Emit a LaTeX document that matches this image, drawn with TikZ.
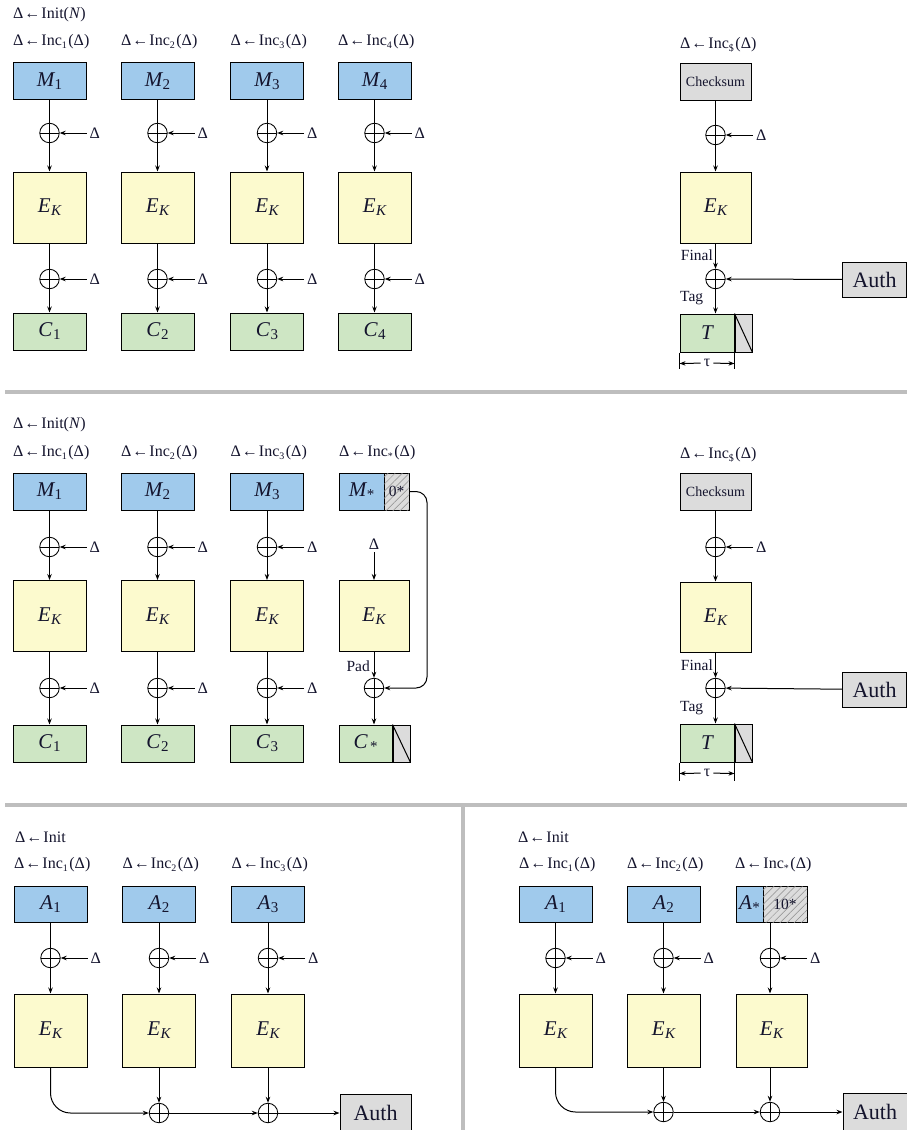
\documentclass[tikz,border=0pt]{standalone}
\usepackage{fontspec}
\setmainfont{Liberation Serif}
\usetikzlibrary{arrows.meta,patterns.meta}

\definecolor{mblue}{RGB}{160,202,236}
\definecolor{eyel}{RGB}{252,250,206}
\definecolor{cgreen}{RGB}{206,230,196}
\definecolor{lgray}{RGB}{220,220,220}
\definecolor{sepgray}{RGB}{190,190,190}
\definecolor{txt}{RGB}{20,20,45}

% font sizes
\newcommand\lbl{\fontsize{16}{18}\selectfont}
\newcommand\sml{\fontsize{15.5}{17}\selectfont}
\newcommand\cks{\fontsize{14}{15}\selectfont}
% big block label with subscript
\newcommand\bigv[2]{{\fontsize{21}{24}\selectfont\itshape #1}\kern0.5pt\raisebox{-3pt}{\fontsize{15}{15}\selectfont #2}}
\newcommand\ek{\bigv{E}{\itshape K}}
\newcommand\authtxt{{\fontsize{22}{24}\selectfont Auth}}
% offset update labels
\newcommand\lo[1]{\raisebox{-2.5pt}{\fontsize{10}{10}\selectfont #1}}
\newcommand\incl[1]{Δ\kern1pt←\kern1pt Inc\lo{#1}\kern1.5pt(Δ)}

\begin{document}
\begin{tikzpicture}[x=1pt,y=-1pt,
  box/.style={draw=black, line width=1pt, inner sep=0pt, text=txt},
  mb/.style={box, fill=mblue, minimum width=73pt, minimum height=37pt},
  eb/.style={box, fill=eyel, minimum width=73pt, minimum height=71pt},
  cb/.style={box, fill=cgreen, minimum width=73pt, minimum height=37pt},
  gb/.style={box, fill=lgray},
  hb/.style={box, fill=lgray, postaction={pattern={Lines[angle=45,distance=5pt,line width=0.5pt]}, pattern color=black!45}},
  xr/.style={circle, draw=black, line width=0.85pt, minimum size=19.5pt, inner sep=0pt,
    path picture={\draw[line width=0.85pt, black] (path picture bounding box.north) -- (path picture bounding box.south)
      (path picture bounding box.west) -- (path picture bounding box.east);}},
  ln/.style={line width=1pt, black},
  ar/.style={ln, -{Stealth[length=6pt,width=4.5pt]}},
  lab/.style={text=txt, inner sep=0pt, font=\lbl},
  sep/.style={line width=4pt, sepgray}]
\useasboundingbox (0,0) rectangle (907,1130);

% ---------------- separators ----------------
\draw[sep] (5,392) -- (907,392);
\draw[sep] (5,805) -- (907,805);
\draw[sep] (463,805) -- (463,1130);

% ---------------- encryption, full blocks ----------------
\node[lab,anchor=west] (tinit) at (13,15) {Δ\kern1pt←\kern1pt Init(\textit{N})};
\foreach \c/\i in {49.5/1,157.5/2,267/3,374.5/4}{
  \node[lab,anchor=west] (tinc\i) at ({\c-36.5},42) {\incl{\i}};
  \node[mb] (tm\i) at (\c,81) {\bigv{M}{\i}};
  \node[xr] (txa\i) at (\c,133) {};
  \node[lab,anchor=west] (tda\i) at ({\c+40},133) {Δ};
  \node[eb] (te\i) at (\c,207.5) {\ek};
  \node[xr] (txb\i) at (\c,279) {};
  \node[lab,anchor=west] (tdb\i) at ({\c+40},279) {Δ};
  \node[cb] (tc\i) at (\c,331.5) {\bigv{C}{\i}};
  \draw[ln] (tm\i) -- (txa\i);
  \draw[ar] (txa\i) -- (te\i);
  \draw[ar,shorten <=3pt] (tda\i) -- (txa\i);
  \draw[ln] (te\i) -- (txb\i);
  \draw[ar] (txb\i) -- (tc\i);
  \draw[ar,shorten <=3pt] (tdb\i) -- (txb\i);
}
% checksum and tag
\node[lab,anchor=west] (tinc5) at (680,45) {\incl{\$}};
\node[gb, minimum width=71pt, minimum height=37pt, font=\cks] (tck) at (715.5,81.5) {Checksum};
\node[xr] (tcx) at (715.5,135) {};
\node[lab,anchor=west] (tcd) at (756,135) {Δ};
\node[eb, minimum width=71pt] (tce) at (715.5,207.5) {\ek};
\node[xr] (tfx) at (715.5,279) {};
\node[lab,anchor=east,font=\sml] (tfin) at (713,255) {Final};
\node[gb, minimum width=64pt, minimum height=35pt] (tauth) at (874.5,279.5) {\authtxt};
\node[lab,anchor=west,font=\sml] (ttag) at (680,298) {Tag};
\node[cb, minimum width=54pt, minimum height=38pt] (tt) at (707,333) {{\fontsize{21}{24}\selectfont\itshape T}};
\node[gb, anchor=north west, minimum width=17pt, minimum height=38pt] (tts) at (tt.north east) {};
\draw[ln] (tts.north west) -- (tts.south east);
\draw[ln] (tck) -- (tcx);
\draw[ar] (tcx) -- (tce);
\draw[ar,shorten <=3pt] (tcd) -- (tcx);
\draw[ar] (tce) -- (tfx);
\draw[ar] (tauth) -- (tfx);
\draw[ar] (tfx.south) -- (tfx.south |- tt.north);
\draw[ln] (tt.south west) -- ++(0,16);
\draw[ln] (tt.south east) -- ++(0,16);
\node[lab] (ttau) at (707,363) {τ};
\path (tt.south west) ++(0,11) coordinate (ttl);
\path (tt.south east) ++(0,11) coordinate (ttr);
\draw[ar,shorten <=3pt] (ttau) -- (ttl);
\draw[ar,shorten <=3pt] (ttau) -- (ttr);

% ---------------- encryption, partial last block ----------------
\node[lab,anchor=west] (minit) at (13,425) {Δ\kern1pt←\kern1pt Init(\textit{N})};
\foreach \c/\i in {49.5/1,157.5/2,267/3}{
  \node[lab,anchor=west] (minc\i) at ({\c-36.5},453) {\incl{\i}};
  \node[mb] (mm\i) at (\c,491.5) {\bigv{M}{\i}};
  \node[xr] (mxa\i) at (\c,547) {};
  \node[lab,anchor=west] (mda\i) at ({\c+40},547) {Δ};
  \node[eb] (me\i) at (\c,616) {\ek};
  \node[xr] (mxb\i) at (\c,688) {};
  \node[lab,anchor=west] (mdb\i) at ({\c+40},688) {Δ};
  \node[cb] (mc\i) at (\c,743.5) {\bigv{C}{\i}};
  \draw[ln] (mm\i) -- (mxa\i);
  \draw[ar] (mxa\i) -- (me\i);
  \draw[ar,shorten <=3pt] (mda\i) -- (mxa\i);
  \draw[ln] (me\i) -- (mxb\i);
  \draw[ar] (mxb\i) -- (mc\i);
  \draw[ar,shorten <=3pt] (mdb\i) -- (mxb\i);
}
\node[lab,anchor=west] (minc4) at (339,453) {\incl{*}};
\node[mb, minimum width=45pt] (mm4) at (361.5,491.5) {\bigv{M}{*}};
\node[hb, minimum width=25pt, minimum height=37pt, font=\sml] (mz) at (396.5,491.5) {0*};
\node[lab] (md4) at (374,544) {Δ};
\node[eb, minimum width=70pt] (me4) at (374,616) {\ek};
\node[xr] (mx4) at (374,688) {};
\node[lab,anchor=east,font=\sml] (mpad) at (370,666) {Pad};
\node[cb, minimum width=53pt] (mc4) at (365.5,743.5) {\bigv{C}{\kern2pt*}};
\node[gb, anchor=north west, minimum width=17pt, minimum height=37pt] (mcs) at (mc4.north east) {};
\draw[ln] (mcs.north west) -- (mcs.south east);
\draw[ar,shorten <=3pt] (md4) -- (me4);
\draw[ar] (me4) -- (mx4);
\draw[ar] (mx4.south) -- (mx4.south |- mc4.north);
\draw[ar, rounded corners=11pt] (mz.east) -- (427,491.5) -- (427,688) -- (mx4.east);
% checksum and tag
\node[lab,anchor=west] (minc5) at (680,455) {\incl{\$}};
\node[gb, minimum width=71pt, minimum height=37pt, font=\cks] (mck) at (715.5,491.5) {Checksum};
\node[xr] (mcx) at (715.5,547) {};
\node[lab,anchor=west] (mcd) at (756,547) {Δ};
\node[eb, minimum width=71pt, minimum height=70pt] (mce) at (715.5,617) {\ek};
\node[xr] (mfx) at (715.5,688) {};
\node[lab,anchor=east,font=\sml] (mfin) at (713,665) {Final};
\node[gb, minimum width=64pt, minimum height=35pt] (mauth) at (874.5,689.5) {\authtxt};
\node[lab,anchor=west,font=\sml] (mtag) at (680,708) {Tag};
\node[cb, minimum width=54pt, minimum height=38pt] (mt) at (707,743) {{\fontsize{21}{24}\selectfont\itshape T}};
\node[gb, anchor=north west, minimum width=17pt, minimum height=38pt] (mts) at (mt.north east) {};
\draw[ln] (mts.north west) -- (mts.south east);
\draw[ln] (mck) -- (mcx);
\draw[ar] (mcx) -- (mce);
\draw[ar,shorten <=3pt] (mcd) -- (mcx);
\draw[ar] (mce) -- (mfx);
\draw[ar] (mauth) -- (mfx);
\draw[ar] (mfx.south) -- (mfx.south |- mt.north);
\draw[ln] (mt.south west) -- ++(0,18);
\draw[ln] (mt.south east) -- ++(0,18);
\node[lab] (mtau) at (707,773) {τ};
\path (mt.south west) ++(0,11) coordinate (mtl);
\path (mt.south east) ++(0,11) coordinate (mtr);
\draw[ar,shorten <=3pt] (mtau) -- (mtl);
\draw[ar,shorten <=3pt] (mtau) -- (mtr);

% ---------------- associated data, full blocks ----------------
\node[lab,anchor=west] (binit) at (15,837) {Δ\kern1pt←\kern1pt Init};
\foreach \c/\i in {50.5/1,159/2,268/3}{
  \node[lab,anchor=west] (binc\i) at ({\c-36.5},865) {\incl{\i}};
  \node[mb, minimum height=36pt] (ba\i) at (\c,904) {\bigv{A}{\i}};
  \node[xr] (bxa\i) at (\c,958) {};
  \node[lab,anchor=west] (bda\i) at ({\c+40},958) {Δ};
  \node[eb, minimum height=73pt] (be\i) at (\c,1030.5) {\ek};
  \draw[ln] (ba\i) -- (bxa\i);
  \draw[ar] (bxa\i) -- (be\i);
  \draw[ar,shorten <=3pt] (bda\i) -- (bxa\i);
}
\node[xr] (bs2) at (159,1113) {};
\node[xr] (bs3) at (268,1113) {};
\node[gb, minimum width=71pt, minimum height=38pt] (bauth) at (375.5,1113) {\authtxt};
\draw[ar, rounded corners=20pt] (be1.south) -- (50.5,1113) -- (bs2.west);
\draw[ar] (be2) -- (bs2);
\draw[ar] (be3) -- (bs3);
\draw[ar] (bs2) -- (bs3);
\draw[ar] (bs3) -- (bauth);

% ---------------- associated data, partial last block ----------------
\node[lab,anchor=west] (rinit) at (518,837) {Δ\kern1pt←\kern1pt Init};
\foreach \c/\i in {555.5/1,663.5/2}{
  \node[lab,anchor=west] (rinc\i) at ({\c-36.5},865) {\incl{\i}};
  \node[mb, minimum height=36pt] (ra\i) at (\c,904) {\bigv{A}{\i}};
  \node[xr] (rxa\i) at (\c,958) {};
  \node[lab,anchor=west] (rda\i) at ({\c+40},958) {Δ};
  \node[eb, minimum height=73pt] (re\i) at (\c,1030.5) {\ek};
  \draw[ln] (ra\i) -- (rxa\i);
  \draw[ar] (rxa\i) -- (re\i);
  \draw[ar,shorten <=3pt] (rda\i) -- (rxa\i);
}
\node[lab,anchor=west] (rinc3) at (735,865) {\incl{*}};
\node[mb, minimum width=27pt, minimum height=36pt] (ra3) at (749.5,904) {\bigv{A}{*}};
\node[hb, minimum width=44pt, minimum height=36pt, font=\sml] (rz) at (785,904) {10*};
\node[xr] (rxa3) at (770,958) {};
\node[lab,anchor=west] (rda3) at (810,958) {Δ};
\node[eb, minimum width=71pt, minimum height=73pt] (re3) at (771.5,1030.5) {\ek};
\draw[ln] (rxa3 |- ra3.south) -- (rxa3);
\draw[ar] (rxa3) -- (rxa3 |- re3.north);
\draw[ar,shorten <=3pt] (rda3) -- (rxa3);
\node[xr] (rs2) at (663.5,1112) {};
\node[xr] (rs3) at (770,1112) {};
\node[gb, minimum width=64pt, minimum height=38pt] (rauth) at (875,1112) {\authtxt};
\draw[ar, rounded corners=20pt] (re1.south) -- (555.5,1112) -- (rs2.west);
\draw[ar] (re2) -- (rs2);
\draw[ar] (rs3 |- re3.south) -- (rs3);
\draw[ar] (rs2) -- (rs3);
\draw[ar] (rs3) -- (rauth);
\end{tikzpicture}
\end{document}
